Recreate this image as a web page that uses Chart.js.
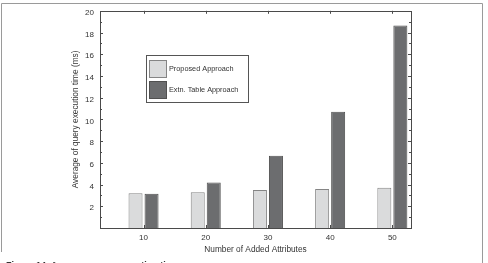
<!DOCTYPE html>
<html>
<head>
<meta charset="utf-8">
<script src="https://cdn.jsdelivr.net/npm/chart.js@4.4.1/dist/chart.umd.min.js"></script>
<style>
  html, body { margin: 0; padding: 0; background: #fff; }
  #wrap { width: 488px; height: 263px; position: relative; }
</style>
</head>
<body>
<div id="wrap"><canvas id="barChart"></canvas></div>
<script>
const categories = [10, 20, 30, 40, 50];
const proposedValues = [3.2, 3.3, 3.5, 3.6, 3.7];
const extnTableValues = [3.15, 4.2, 6.65, 10.7, 18.65];
const yTickValues = [2, 4, 6, 8, 10, 12, 14, 16, 18, 20];
const seriesLabels = ['Proposed Approach', 'Extn. Table Approach'];

const axisColor = '#4a4a4a';
const textColor = '#333333';
const fontFamily = '"Liberation Sans", Arial, sans-serif';

function toPoints(values) {
    return values.map((v, i) => ({ x: categories[i], y: v }));
}

// box around the plot, inward tick marks, outer figure frame, caption
const framePlugin = {
    id: 'frame',
    afterDraw(chart) {
        const ctx = chart.ctx;
        const a = chart.chartArea;
        const xs = chart.scales.x;
        const ys = chart.scales.y;
        ctx.save();

        // outer figure frame
        ctx.strokeStyle = '#9a9a9a';
        ctx.lineWidth = 1;
        ctx.beginPath();
        ctx.moveTo(1.5, 252);
        ctx.lineTo(1.5, 3.5);
        ctx.lineTo(482.5, 3.5);
        ctx.lineTo(482.5, 263);
        ctx.stroke();

        // plot box
        ctx.strokeStyle = axisColor;
        ctx.strokeRect(Math.round(a.left) + 0.5, Math.round(a.top) + 0.5,
            Math.round(a.right - a.left), Math.round(a.bottom - a.top));

        ctx.beginPath();
        // x ticks, bottom and top
        categories.forEach(c => {
            const px = Math.round(xs.getPixelForValue(c)) + 0.5;
            ctx.moveTo(px, a.bottom);
            ctx.lineTo(px, a.bottom - 3);
            ctx.moveTo(px, a.top);
            ctx.lineTo(px, a.top + 3);
        });
        // y ticks, left and right, major every 2 and minor every 1
        for (let v = 1; v < 20; v++) {
            const py = Math.round(ys.getPixelForValue(v)) + 0.5;
            const len = v % 2 === 0 ? 3 : 2;
            ctx.moveTo(a.left, py);
            ctx.lineTo(a.left + len, py);
            ctx.moveTo(a.right, py);
            ctx.lineTo(a.right - len, py);
        }
        ctx.stroke();

        // legend inside the plot
        const lx = 146.5, ly = 55.5, lw = 102, lh = 47;
        ctx.fillStyle = '#ffffff';
        ctx.fillRect(lx, ly, lw, lh);
        ctx.strokeStyle = '#555555';
        ctx.strokeRect(lx, ly, lw, lh);
        chart.data.datasets.forEach((ds, i) => {
            const sy = 60.5 + i * 21;
            ctx.fillStyle = ds.backgroundColor;
            ctx.fillRect(149.5, sy, 17, 17);
            ctx.strokeStyle = ds.borderColor;
            ctx.strokeRect(149.5, sy, 17, 17);
            ctx.fillStyle = textColor;
            ctx.font = '7.3px ' + fontFamily;
            ctx.textBaseline = 'middle';
            ctx.textAlign = 'left';
            ctx.fillText(ds.label, 169, sy + 8.5);
        });

        // caption, mostly cut off by the bottom edge
        ctx.fillStyle = '#333333';
        ctx.font = 'bold 9px ' + fontFamily;
        ctx.textBaseline = 'top';
        ctx.fillText('Figure 14  Average query execution time.', 6, 261);

        ctx.restore();
    }
};

const ctx = document.getElementById('barChart').getContext('2d');
new Chart(ctx, {
    type: 'bar',
    data: {
        datasets: [{
            label: seriesLabels[0],
            data: toPoints(proposedValues),
            backgroundColor: '#dadbdc',
            borderColor: '#858585',
            borderWidth: 1,
            categoryPercentage: 0.515,
            barPercentage: 0.875
        }, {
            label: seriesLabels[1],
            data: toPoints(extnTableValues),
            backgroundColor: '#6c6d6f',
            borderColor: '#505050',
            borderWidth: 1,
            categoryPercentage: 0.515,
            barPercentage: 0.875
        }]
    },
    options: {
        responsive: true,
        maintainAspectRatio: false,
        animation: false,
        layout: { padding: { left: 0, top: 10, right: 77, bottom: 0 } },
        plugins: {
            legend: { display: false },
            tooltip: { enabled: false }
        },
        scales: {
            x: {
                type: 'linear',
                min: 3,
                max: 53,
                offset: false,
                grid: { display: false, drawTicks: false },
                border: { display: false },
                afterBuildTicks: scale => {
                    scale.ticks = categories.map(v => ({ value: v }));
                },
                afterFit: scale => { scale.height = 35; },
                ticks: {
                    color: textColor,
                    padding: 5,
                    font: { family: fontFamily, size: 8 }
                },
                title: {
                    display: true,
                    text: 'Number of Added Attributes',
                    color: textColor,
                    font: { family: fontFamily, size: 8.3 },
                    padding: { top: 0, bottom: 8 }
                }
            },
            y: {
                min: 0,
                max: 20,
                grid: { display: false, drawTicks: false },
                border: { display: false },
                afterBuildTicks: scale => {
                    scale.ticks = yTickValues.map(v => ({ value: v }));
                },
                afterFit: scale => { scale.width = 100; },
                ticks: {
                    color: textColor,
                    padding: 6,
                    labelOffset: 2,
                    font: { family: fontFamily, size: 8 }
                },
                title: {
                    display: true,
                    text: 'Average of query execution time (ms)',
                    color: textColor,
                    font: { family: fontFamily, size: 8.3 },
                    padding: { top: 71, bottom: 0 }
                }
            }
        }
    },
    plugins: [framePlugin]
});
</script>
</body>
</html>
